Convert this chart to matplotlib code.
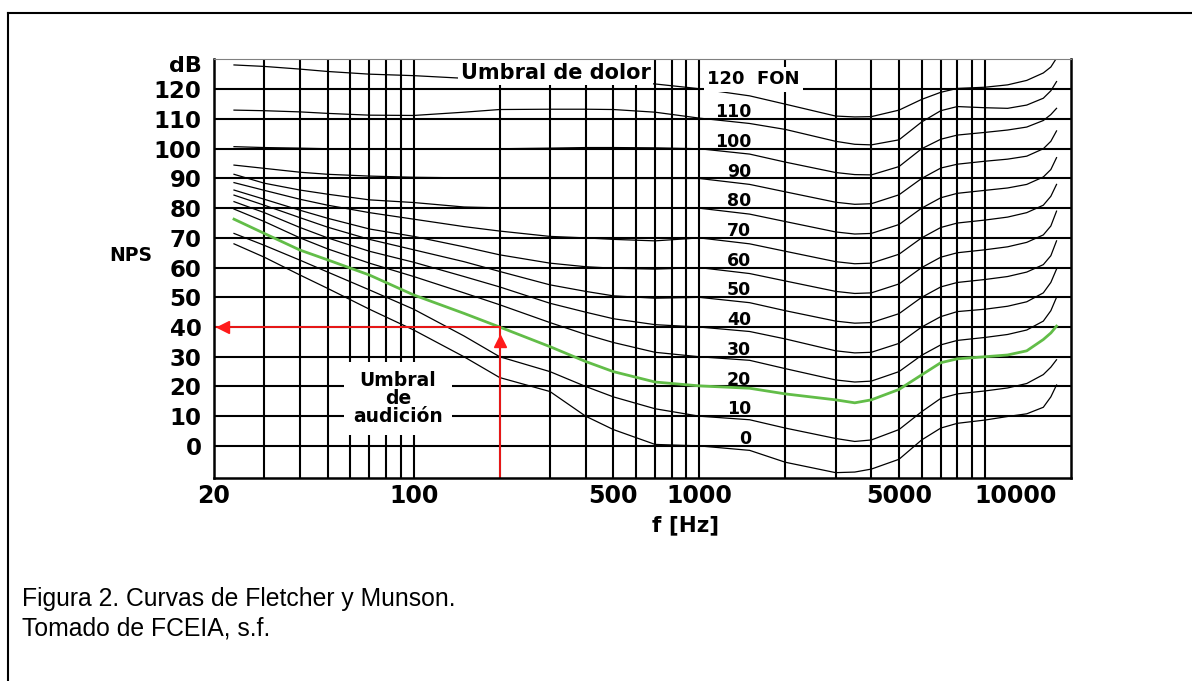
"""
Curvas de Fletcher y Munson (equal-loudness contours) redrawn with matplotlib.
Writes out.png in the current directory.
"""

import matplotlib
matplotlib.use('Agg')
import matplotlib.pyplot as plt
from matplotlib.lines import Line2D
from matplotlib.transforms import offset_copy, ScaledTranslation

FREQS = [23.5, 30, 40, 50, 70, 100, 150, 200, 300, 400, 500, 700,
         1000, 1500, 2000, 3000, 3500, 4000, 5000, 6000, 7000, 8000,
         10000, 12000, 14000, 16000, 17000, 17800]

# sound pressure level (dB) of each contour at FREQS
PHON_120 = [128.2, 127.7, 126.8, 126.0, 125.1, 124.6, 123.7, 123.4, 123.3, 123.2, 122.8, 121.8,
            120.2, 117.8, 115.0, 111.0, 110.7, 110.8, 113.0, 116.6, 119.0, 120.3, 120.7, 121.5,
            123.0, 125.5, 127.5, 130.5]
PHON_110 = [113.0, 112.8, 112.4, 111.9, 111.3, 111.2, 112.3, 113.2, 113.3, 113.3, 113.2, 112.3,
            110.3, 108.5, 106.5, 102.5, 101.5, 101.3, 103.0, 109.0, 112.8, 114.2, 113.8, 113.6,
            114.7, 117.0, 119.5, 122.6]
PHON_100 = [100.7, 100.4, 100.2, 100.0, 100.0, 100.0, 100.0, 100.0, 100.2, 100.4, 100.4, 100.3,
            100.0, 98.2, 95.5, 92.0, 91.3, 91.2, 94.0, 100.0, 103.2, 104.6, 105.5, 106.3,
            107.3, 109.5, 111.5, 113.6]
PHON_90 = [94.5, 93.4, 92.1, 91.4, 90.8, 90.4, 90.2, 90.0, 90.0, 90.0, 90.0, 90.0,
           90.0, 88.0, 85.5, 82.0, 81.3, 81.5, 84.5, 90.0, 93.5, 94.8, 95.8, 96.5,
           97.5, 100.0, 102.5, 106.0]
PHON_80 = [91.4, 88.4, 86.1, 84.7, 82.8, 81.9, 80.4, 80.1, 80.0, 80.0, 80.0, 80.0,
           80.0, 78.0, 75.5, 72.0, 71.3, 71.5, 74.5, 80.0, 83.5, 85.0, 86.0, 86.8,
           88.0, 90.5, 93.0, 97.0]
PHON_70 = [88.6, 86.0, 83.0, 81.0, 78.5, 76.3, 73.8, 72.3, 70.5, 70.0, 69.5, 69.0,
           70.0, 68.0, 65.5, 62.0, 61.3, 61.5, 64.5, 70.0, 73.5, 75.0, 76.0, 77.0,
           78.5, 81.0, 84.0, 88.0]
PHON_60 = [86.1, 83.0, 79.3, 76.6, 73.0, 70.5, 67.0, 64.3, 61.5, 60.3, 59.8, 59.5,
           60.0, 58.0, 55.5, 52.0, 51.3, 51.5, 54.5, 60.0, 63.5, 65.0, 66.0, 67.0,
           68.5, 71.0, 74.0, 79.0]
PHON_50 = [84.4, 81.0, 76.8, 73.6, 69.5, 66.0, 62.0, 58.7, 54.2, 52.0, 50.5, 49.7,
           50.0, 48.2, 45.5, 42.0, 41.3, 41.5, 44.5, 50.0, 53.5, 55.0, 56.0, 57.0,
           58.5, 61.0, 64.0, 69.0]
PHON_40 = [82.2, 78.5, 73.5, 70.0, 65.5, 61.8, 57.0, 53.5, 48.0, 45.0, 42.8, 40.8,
           40.0, 38.5, 36.0, 32.0, 31.3, 31.5, 34.5, 40.0, 43.5, 45.2, 46.0, 47.0,
           48.5, 51.5, 55.0, 59.5]
PHON_30 = [79.7, 75.5, 70.0, 66.3, 61.5, 57.0, 51.5, 47.5, 41.5, 37.5, 34.8, 31.5,
           30.0, 28.8, 26.0, 22.2, 21.5, 21.8, 25.0, 30.5, 34.0, 35.5, 36.5, 37.5,
           39.0, 42.0, 45.5, 50.0]
PHON_20 = [76.3, 71.5, 65.9, 62.6, 57.5, 50.8, 44.6, 40.0, 33.4, 28.4, 25.0, 21.5,
           20.2, 19.4, 17.5, 15.5, 14.5, 15.5, 19.0, 23.9, 28.0, 29.3, 30.0, 30.6,
           32.0, 35.8, 38.0, 40.3]
PHON_10 = [71.5, 67.5, 62.5, 58.5, 52.5, 46.0, 37.0, 30.0, 25.0, 20.0, 16.5, 12.5,
           10.0, 8.8, 6.0, 2.5, 1.5, 2.0, 5.5, 11.5, 16.0, 17.5, 18.5, 19.5,
           21.0, 24.0, 26.5, 29.0]
PHON_0 = [68.0, 63.5, 57.5, 53.0, 46.0, 39.0, 30.0, 23.0, 18.3, 10.0, 5.5, 0.5,
          0.0, -1.5, -5.5, -9.0, -8.8, -7.8, -4.5, 2.0, 6.0, 7.6, 8.7, 9.9,
          10.8, 13.0, 16.5, 20.5]

PHON_LEVELS = [120, 110, 100, 90, 80, 70, 60, 50, 40, 30, 20, 10, 0]
PHON_CURVES = [PHON_120, PHON_110, PHON_100, PHON_90, PHON_80, PHON_70, PHON_60,
               PHON_50, PHON_40, PHON_30, PHON_20, PHON_10, PHON_0]
HIGHLIGHT_PHON = 20          # threshold of hearing curve drawn in green

# grid / ticks
GRID_FREQS = [30, 40, 50, 60, 70, 80, 90,
              100, 200, 300, 400, 500, 600, 700, 800, 900,
              1000, 2000, 3000, 4000, 5000, 6000, 7000, 8000, 9000, 10000]
GRID_DB = [0, 10, 20, 30, 40, 50, 60, 70, 80, 90, 100, 110, 120]
X_TICKS = [20, 100, 500, 1000, 5000, 10000]
X_TICK_LABELS = ['20', '100', '500', '1000', '5000', '10000']

# red example: 200 Hz heard at 40 dB
EXAMPLE_FREQ = 200
EXAMPLE_DB = 40

CAPTION = 'Figura 2. Curvas de Fletcher y Munson.\nTomado de FCEIA, s.f.'


def main():
    W, H, DPI = 1192, 681, 100
    fig = plt.figure(figsize=(W / DPI, H / DPI), dpi=DPI)
    fig.patch.set_facecolor('white')

    # axes box measured in pixels on the original
    x0, x1, y0, y1 = 214, 1071, 59, 478
    ax = fig.add_axes([x0 / W, 1 - y1 / H, (x1 - x0) / W, (y1 - y0) / H])

    ax.set_xscale('log')
    ax.set_xlim(20, 20000)
    ax.set_ylim(-10.8, 130.2)

    bold = dict(family='DejaVu Sans', weight='bold', color='black')

    # grid
    for f in GRID_FREQS:
        ax.axvline(f, color='black', lw=1.5, zorder=1)
    for d in GRID_DB:
        ax.axhline(d, color='black', lw=1.5, zorder=1)

    # contours
    for level, curve in zip(PHON_LEVELS, PHON_CURVES):
        if level == HIGHLIGHT_PHON:
            ax.plot(FREQS, curve, color='#62bd48', lw=2.0, zorder=3)
        else:
            ax.plot(FREQS, curve, color='black', lw=0.9, zorder=2)

    # red example arrows
    red = '#ff1a1a'
    ax.plot([EXAMPLE_FREQ, EXAMPLE_FREQ], [ax.get_ylim()[0], EXAMPLE_DB],
            color=red, lw=1.3, zorder=4, clip_on=False)
    ax.plot([ax.get_xlim()[0], EXAMPLE_FREQ], [EXAMPLE_DB, EXAMPLE_DB],
            color=red, lw=1.3, zorder=4)
    up_tr = offset_copy(ax.transData, fig=fig, x=0, y=-14, units='dots')
    ax.plot(EXAMPLE_FREQ, EXAMPLE_DB, marker='^', ms=9, color=red,
            transform=up_tr, zorder=5)
    left_tr = offset_copy(ax.transData, fig=fig, x=9, y=0, units='dots')
    ax.plot(ax.get_xlim()[0], EXAMPLE_DB, marker='<', ms=9, color=red,
            transform=left_tr, zorder=5, clip_on=False)

    # ticks
    ax.set_xticks(X_TICKS)
    ax.set_xticklabels(X_TICK_LABELS)
    ax.xaxis.set_minor_locator(matplotlib.ticker.NullLocator())
    ax.set_yticks(GRID_DB)
    ax.tick_params(axis='both', length=0)
    ax.tick_params(axis='y', pad=9)
    ax.tick_params(axis='x', pad=4)
    for lab in ax.get_xticklabels():
        lab.set_fontfamily('DejaVu Sans')
        lab.set_fontweight('bold')
        lab.set_fontsize(17)
    for lab in ax.get_yticklabels():
        lab.set_fontfamily('DejaVu Sans')
        lab.set_fontweight('bold')
        lab.set_fontsize(16.5)
    # the last frequency label sits to the right of its line
    lab = ax.get_xticklabels()[-1]
    lab.set_transform(lab.get_transform() + ScaledTranslation(31 / DPI, 0, fig.dpi_scale_trans))

    ax.text(-0.014, 128.0, 'dB', transform=ax.get_yaxis_transform(),
            ha='right', va='center', fontsize=16, **bold)
    ax.text(-0.0974, 0.532, 'NPS', transform=ax.transAxes,
            ha='center', va='center', fontsize=13.5, **bold)
    ax.set_xlabel('f [Hz]', fontsize=15.5, **bold)
    ax.xaxis.set_label_coords(0.5508, -0.112)
    ax.xaxis.label.set_va('center')

    # spines
    for side in ['left', 'bottom', 'right']:
        ax.spines[side].set_linewidth(1.8)
        ax.spines[side].set_zorder(10)
    ax.spines['top'].set_linewidth(0.8)
    ax.spines['top'].set_color('#808080')
    ax.spines['top'].set_zorder(10)

    # annotations inside the chart
    ax.text(314, 125.6, 'Umbral de dolor', ha='center', va='center', fontsize=15,
            zorder=6, bbox=dict(boxstyle='square,pad=0.12', fc='white', ec='none'), **bold)
    ax.text(88, 16.0, 'Umbral\nde\naudición', ha='center', va='center', fontsize=13.5,
            linespacing=0.92, zorder=6,
            bbox=dict(boxstyle='square,pad=0.5', fc='white', ec='none'), **bold)
    ax.text(1067, 123.4, '120  FON', ha='left', va='center', fontsize=13, zorder=6,
            bbox=dict(boxstyle='square,pad=0.2', fc='white', ec='none'), **bold)
    for level in PHON_LEVELS[1:]:
        ax.text(1521, level + 2.3, str(level), ha='right', va='center',
                fontsize=12.5, zorder=6, **bold)

    # caption and page frame
    fig.text(22 / W, 1 - 614 / H, CAPTION, ha='left', va='center',
             family='Liberation Sans', fontsize=17.8, linespacing=1.3)
    fig.add_artist(Line2D([8 / W, 8 / W], [0, 1 - 13 / H], transform=fig.transFigure,
                          color='black', lw=1.5))
    fig.add_artist(Line2D([8 / W, 1], [1 - 13 / H, 1 - 13 / H], transform=fig.transFigure,
                          color='black', lw=1.5))

    fig.savefig('out.png', dpi=DPI)
    plt.close(fig)


if __name__ == '__main__':
    main()
